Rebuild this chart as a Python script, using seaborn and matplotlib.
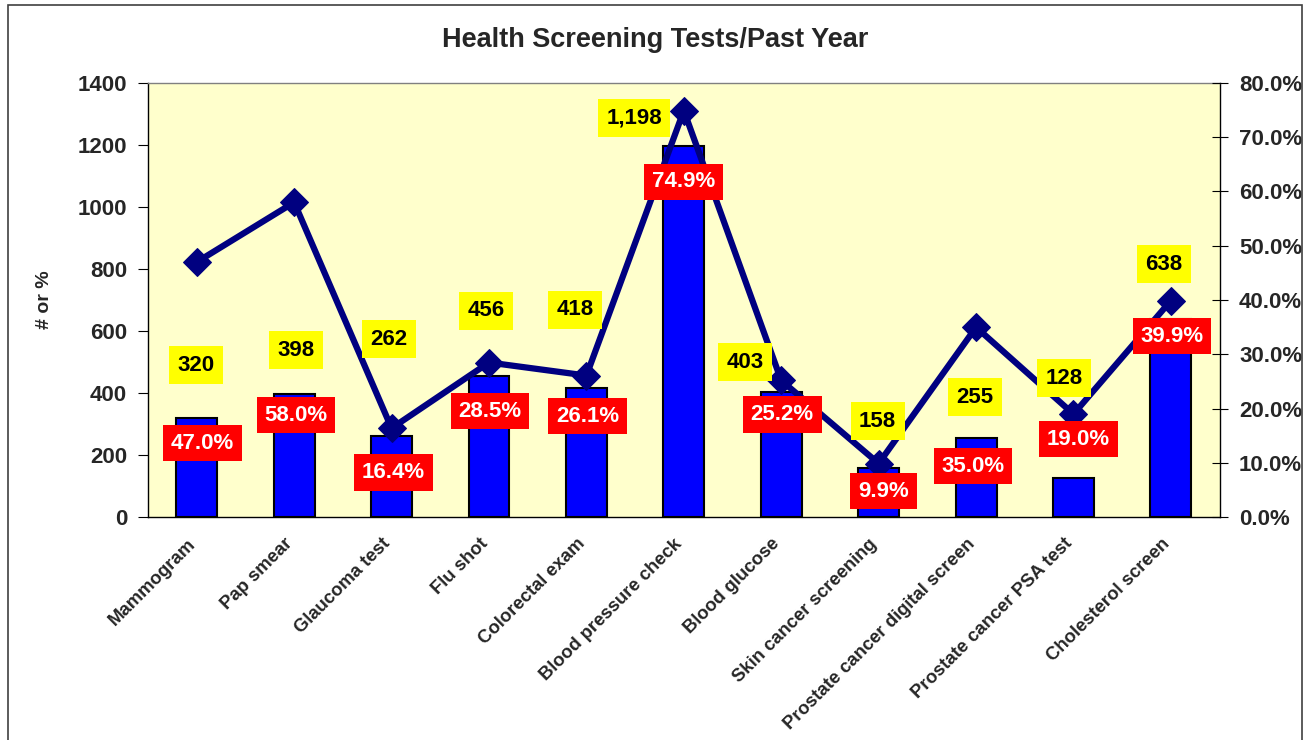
import matplotlib
matplotlib.use("Agg")
import matplotlib.pyplot as plt
import matplotlib.transforms as mtransforms
import seaborn as sns
import pandas as pd
from matplotlib.patches import Rectangle

categories = ["Mammogram", "Pap smear", "Glaucoma test", "Flu shot", "Colorectal exam",
              "Blood pressure check", "Blood glucose", "Skin cancer screening",
              "Prostate cancer digital screen", "Prostate cancer PSA test", "Cholesterol screen"]
counts = [320, 398, 262, 456, 418, 1198, 403, 158, 255, 128, 638]
percents = [47.0, 58.0, 16.4, 28.5, 26.1, 74.9, 25.2, 9.9, 35.0, 19.0, 39.9]
count_labels = ["320", "398", "262", "456", "418", "1,198", "403", "158", "255", "128", "638"]
left_ticks = [0, 200, 400, 600, 800, 1000, 1200, 1400]
right_ticks = [0, 10, 20, 30, 40, 50, 60, 70, 80]

# label placement (layout, in left-axis units)
yellow_pos = [(-0.01, 490), (0.02, 539), (-0.03, 574), (-0.03, 665), (-0.12, 668), (-0.51, 1287),
              (-0.37, 500), (-0.01, 310), (-0.01, 387), (-0.1, 448), (-0.07, 816)]
red_pos = [(0.06, 239), (0.02, 329), (0.02, 145), (0.01, 342), (0.01, 326), (0.0, 1081),
           (0.01, 332), (0.05, 84), (-0.03, 165), (0.05, 252), (0.01, 584)]

sns.set_style("white")
plt.rcParams['font.family'] = ['Liberation Sans', 'DejaVu Sans']

df = pd.DataFrame({"cat": categories, "count": counts, "pct": percents,
                   "x": list(range(len(categories)))})

fig = plt.figure(figsize=(13.1, 7.4), dpi=100)
ax = fig.add_axes([0.113, 0.301, 0.818, 0.587])
ax.set_facecolor("#FFFFCC")

sns.barplot(data=df, x="cat", y="count", ax=ax, color="#0000FF", width=0.42,
            edgecolor="black", linewidth=1.5, saturation=1)
ax.set_xlim(-0.5, len(categories) - 0.5)
ax.set_ylim(0, 1400)
ax.set_yticks(left_ticks)
ax.set_yticklabels([str(t) for t in left_ticks], fontsize=16, fontweight="bold")
ax.set_xlabel("")
ax.set_ylabel("# or %", fontsize=14, fontweight="bold", labelpad=18)
ax.set_xticks(range(len(categories)))
ax.set_xticklabels(categories, rotation=45, ha="right", rotation_mode="anchor",
                   fontsize=13.3, fontweight="bold")
ax.tick_params(axis="x", length=0, pad=13)
shift = mtransforms.ScaledTranslation(-10 / 100, 0, fig.dpi_scale_trans)
for lbl in ax.get_xticklabels():
    lbl.set_transform(lbl.get_transform() + shift)
ax.set_xticks([i + 0.5 for i in range(-1, len(categories))], minor=True)
ax.tick_params(axis="x", which="minor", length=6, direction="out", color="black")
ax.tick_params(axis="y", length=7, direction="out", color="black", left=True, pad=8)
ax.spines["left"].set_color("black")
ax.spines["bottom"].set_color("black")
ax.spines["top"].set_color("#808080")
ax.spines["right"].set_color("black")
for s in ax.spines.values():
    s.set_linewidth(1)

ax2 = ax.twinx()
sns.lineplot(data=df, x="x", y="pct", ax=ax2, color="#000080", linewidth=4.5,
             marker="D", markersize=14, markeredgecolor="#000080")
ax2.set_ylim(0, 80)
ax2.set_yticks(right_ticks)
ax2.set_yticklabels([f"{t:.1f}%" for t in right_ticks], fontsize=16, fontweight="bold")
ax2.tick_params(axis="y", length=12, direction="inout", color="black", right=True, pad=8)
ax2.set_ylabel("")
ax2.set_xlim(-0.5, len(categories) - 0.5)
for s in ax2.spines.values():
    s.set_visible(False)

for i in range(len(categories)):
    dx, y = yellow_pos[i]
    ax2.text(i + dx, y, count_labels[i], transform=ax.transData, ha="center", va="center",
             fontsize=16, fontweight="bold", color="black", zorder=10,
             bbox=dict(boxstyle="square,pad=0.38", facecolor="#FFFF00", edgecolor="none"))
    dx, y = red_pos[i]
    ax2.text(i + dx, y, f"{percents[i]:.1f}%", transform=ax.transData, ha="center", va="center",
             fontsize=16, fontweight="bold", color="white", zorder=11,
             bbox=dict(boxstyle="square,pad=0.35", facecolor="#FF0000", edgecolor="none"))

fig.text(0.5, 0.946, "Health Screening Tests/Past Year", ha="center", va="center",
         fontsize=19.5, fontweight="bold")

fig.patches.append(Rectangle((0.006, -0.01), 0.988, 1.003, transform=fig.transFigure,
                             fill=False, edgecolor="#404040", linewidth=1.2))

fig.savefig("out.png", dpi=100)
